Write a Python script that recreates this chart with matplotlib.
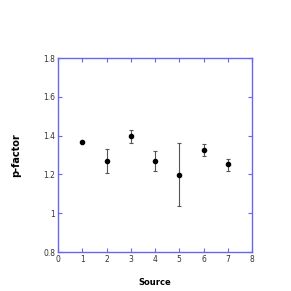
import matplotlib
matplotlib.use("Agg")
import matplotlib.pyplot as plt

sources = [1, 2, 3, 4, 5, 6, 7]
pfactor = [1.365, 1.269, 1.396, 1.269, 1.199, 1.327, 1.252]
err_up = [0.0, 0.060, 0.031, 0.050, 0.161, 0.030, 0.029]
err_dn = [0.0, 0.060, 0.034, 0.052, 0.162, 0.031, 0.033]
xticks = [0, 1, 2, 3, 4, 5, 6, 7, 8]
yticks = [0.8, 1.0, 1.2, 1.4, 1.6, 1.8]
ylabels = ["0.8", "1", "1.2", "1.4", "1.6", "1.8"]

fig = plt.figure(figsize=(2.91, 2.91), dpi=100)
ax = fig.add_axes([58/291, 1-252/291, 194/291, 194/291])
ax.errorbar(sources, pfactor, yerr=[err_dn, err_up], fmt='o', color='black',
            ecolor='#555555', elinewidth=0.8, capsize=1.5, capthick=0.8,
            markersize=3)
ax.set_xlim(0, 8)
ax.set_ylim(0.8, 1.8)
ax.set_xticks(xticks)
ax.set_yticks(yticks)
ax.set_yticklabels(ylabels)
for s in ax.spines.values():
    s.set_color('#6666ee')
    s.set_linewidth(1.0)
ax.tick_params(direction='in', top=True, right=True, length=3, width=0.8,
               color='#6666ee', labelsize=5.5, labelcolor='#333333', pad=2)
ax.tick_params(axis='x', labeltop=False)
ax.tick_params(axis='y', labelright=False)
ax.set_xlabel("Source", fontsize=6, fontweight='bold', labelpad=10)
ax.set_ylabel("p-factor", fontsize=7, fontweight='bold', labelpad=16)
fig.savefig("out.png", dpi=100)
